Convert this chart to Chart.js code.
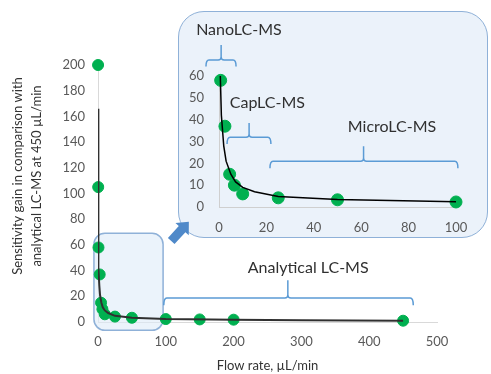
<!DOCTYPE html>
<html>
<head>
<meta charset="utf-8">
<script src="https://cdn.jsdelivr.net/npm/chart.js@4.4.0/dist/chart.umd.min.js"></script>
<style>
  body { margin: 0; background: #fff; }
  #wrap { position: relative; width: 491px; height: 374px; }
  #box { position: absolute; left: 178px; top: 11px; width: 310px; height: 227px; box-sizing: border-box;
         border: 1.5px solid #8fb1d8; border-radius: 26px; background: #ebf2fa; z-index: 1; }
  #inset { position: absolute; left: 178px; top: 11px; z-index: 2; }
  #main { position: absolute; left: 0; top: 0; z-index: 3; }
</style>
</head>
<body>
<div id="wrap">
  <div id="box"></div>
  <canvas id="inset" width="310" height="227"></canvas>
  <canvas id="main" width="491" height="374"></canvas>
</div>
<script>
// measured points (flow rate in µL/min, sensitivity gain)
const flowRate = [0.1, 0.3, 0.7, 2.5, 4.5, 6.5, 10, 25, 50, 100, 150, 200, 450];
const gain     = [200, 105, 58, 37, 15, 10, 6, 4.2, 3.3, 2.3, 2, 1.8, 1.0];

// power trend line
const fitFlow = [0.1, 0.2, 0.4, 0.6, 1, 2, 3, 5, 7, 10, 15, 25, 50, 100, 200, 300, 450];
const fitGain = [166, 110, 72, 58, 42, 28, 21, 15, 11.5, 9, 7, 4.8, 3.4, 2.4, 1.7, 1.3, 1.0];

const yTitle = ['Sensitivity gain in comparison with', 'analytical LC-MS at 450 µL/min'];
const xTitle = 'Flow rate, µL/min';

const FONT = 'Lato';
const tickCol = '#595959';
const braceCol = '#5b9bd5';

const pts = flowRate.map((x, i) => ({ x: x, y: gain[i] }));
const fit = fitFlow.map((x, i) => ({ x: x, y: fitGain[i] }));

function brace(ctx, x1, x2, y, px, py, ey) {
    const r = 3;
    ctx.save();
    ctx.strokeStyle = braceCol;
    ctx.lineWidth = 1.5;
    ctx.beginPath();
    ctx.moveTo(x1, ey);
    ctx.quadraticCurveTo(x1, y, x1 + r, y);
    ctx.lineTo(px - r, y);
    ctx.quadraticCurveTo(px, y, px, y - r);
    ctx.lineTo(px, py);
    ctx.moveTo(px, y - r);
    ctx.quadraticCurveTo(px, y, px + r, y);
    ctx.lineTo(x2 - r, y);
    ctx.quadraticCurveTo(x2, y, x2, ey);
    ctx.stroke();
    ctx.restore();
}

function label(ctx, text, x, y) {
    ctx.save();
    ctx.font = '16px ' + FONT;
    ctx.fillStyle = '#303030';
    ctx.textAlign = 'center';
    ctx.textBaseline = 'middle';
    ctx.fillText(text, x, y);
    ctx.restore();
}

function roundRect(ctx, x, y, w, h, r) {
    ctx.beginPath();
    ctx.moveTo(x + r, y);
    ctx.arcTo(x + w, y, x + w, y + h, r);
    ctx.arcTo(x + w, y + h, x, y + h, r);
    ctx.arcTo(x, y + h, x, y, r);
    ctx.arcTo(x, y, x + w, y, r);
    ctx.closePath();
}

const mainDeco = {
    id: 'mainDeco',
    beforeDatasetsDraw(chart) {
        const { ctx, scales: { x, y } } = chart;
        const l = x.getPixelForValue(-6), r = x.getPixelForValue(96);
        const t = y.getPixelForValue(69), b = y.getPixelForValue(-6.5);
        ctx.save();
        roundRect(ctx, l, t, r - l, b - t, 11);
        ctx.fillStyle = 'rgba(222,235,248,0.6)';
        ctx.fill();
        ctx.strokeStyle = '#8fb1d8';
        ctx.lineWidth = 1.5;
        ctx.stroke();
        ctx.restore();
    },
    afterDatasetsDraw(chart) {
        const { ctx, scales: { x, y } } = chart;
        brace(ctx, x.getPixelForValue(97), x.getPixelForValue(465), y.getPixelForValue(18.7),
              x.getPixelForValue(280), y.getPixelForValue(32.5), y.getPixelForValue(13));
        label(ctx, 'Analytical LC-MS', x.getPixelForValue(310), y.getPixelForValue(42));

        // arrow towards the inset
        const x0 = x.getPixelForValue(108), y0 = y.getPixelForValue(63);
        const x1 = x.getPixelForValue(134), y1 = y.getPixelForValue(78);
        const ang = Math.atan2(y1 - y0, x1 - x0);
        const len = Math.hypot(x1 - x0, y1 - y0);
        ctx.save();
        ctx.translate(x0, y0);
        ctx.rotate(ang);
        ctx.beginPath();
        ctx.moveTo(0, -4.5);
        ctx.lineTo(len - 10, -4.5);
        ctx.lineTo(len - 10, -9);
        ctx.lineTo(len, 0);
        ctx.lineTo(len - 10, 9);
        ctx.lineTo(len - 10, 4.5);
        ctx.lineTo(0, 4.5);
        ctx.closePath();
        ctx.fillStyle = '#4f89c9';
        ctx.fill();
        ctx.restore();
    },
    afterDraw(chart) {
        const { ctx } = chart;
        ctx.save();
        ctx.font = '13px ' + FONT;
        ctx.fillStyle = '#333';
        ctx.textAlign = 'center';
        ctx.textBaseline = 'middle';
        ctx.translate(18, 176);
        ctx.rotate(-Math.PI / 2);
        ctx.fillText(yTitle[0], 0, 0);
        ctx.fillText(yTitle[1], 0, 19);
        ctx.restore();
    }
};

const insetDeco = {
    id: 'insetDeco',
    afterDraw(chart) {
        const { ctx, scales: { x, y } } = chart;
        brace(ctx, x.getPixelForValue(-5.5), x.getPixelForValue(7.2), y.getPixelForValue(67.3),
              x.getPixelForValue(0.9), y.getPixelForValue(74.2), y.getPixelForValue(64.4));
        label(ctx, 'NanoLC-MS', x.getPixelForValue(8.4), y.getPixelForValue(81));
        brace(ctx, x.getPixelForValue(3.4), x.getPixelForValue(21.9), y.getPixelForValue(32),
              x.getPixelForValue(12.7), y.getPixelForValue(38.5), y.getPixelForValue(28.8));
        label(ctx, 'CapLC-MS', x.getPixelForValue(20.4), y.getPixelForValue(47.6));
        brace(ctx, x.getPixelForValue(21.5), x.getPixelForValue(100.8), y.getPixelForValue(21),
              x.getPixelForValue(61), y.getPixelForValue(27.8), y.getPixelForValue(17.8));
        label(ctx, 'MicroLC-MS', x.getPixelForValue(73), y.getPixelForValue(36.6));
    }
};

const tickFont = { family: FONT, size: 13 };

new Chart(document.getElementById('main'), {
    type: 'scatter',
    data: {
        datasets: [{
            data: fit,
            showLine: true,
            borderColor: '#303030',
            borderWidth: 2,
            pointRadius: 0
        }, {
            data: pts,
            backgroundColor: '#00b050',
            borderColor: '#00b050',
            pointRadius: 5.5,
            clip: false
        }]
    },
    options: {
        responsive: false,
        animation: false,
        layout: { padding: { top: 65, right: 54, left: 0, bottom: 0 } },
        plugins: { legend: { display: false }, tooltip: { enabled: false } },
        scales: {
            x: {
                min: 0, max: 500,
                ticks: { stepSize: 100, padding: 12, color: tickCol, font: tickFont },
                grid: { display: false, drawTicks: false },
                border: { display: true, color: '#d9d9d9' },
                title: { display: true, text: xTitle, color: '#333', font: tickFont, padding: { top: 0, bottom: 0 } },
                afterFit: s => { s.height = 52; }
            },
            y: {
                min: 0, max: 200,
                ticks: { stepSize: 20, padding: 13, color: tickCol, font: tickFont },
                grid: { display: false, drawTicks: false },
                border: { display: true, color: '#d9d9d9' },
                afterFit: s => { s.width = 98; }
            }
        }
    },
    plugins: [mainDeco]
});

new Chart(document.getElementById('inset'), {
    type: 'scatter',
    data: {
        datasets: [{
            data: fit,
            showLine: true,
            borderColor: '#000',
            borderWidth: 1.5,
            pointRadius: 0,
            clip: 0
        }, {
            data: pts,
            backgroundColor: '#00b050',
            borderColor: '#00b050',
            pointRadius: 6,
            clip: 7
        }]
    },
    options: {
        responsive: false,
        animation: false,
        layout: { padding: { top: 65, right: 32, left: 0, bottom: 0 } },
        plugins: { legend: { display: false }, tooltip: { enabled: false } },
        scales: {
            x: {
                min: 0, max: 100,
                ticks: { stepSize: 20, padding: 13, color: tickCol, font: tickFont },
                grid: { display: false, drawTicks: false },
                border: { display: true, color: '#cfcfcf' },
                afterFit: s => { s.height = 31; }
            },
            y: {
                min: 0, max: 60,
                ticks: { stepSize: 10, padding: 15, color: tickCol, font: tickFont },
                grid: { display: false, drawTicks: false },
                border: { display: true, color: '#cfcfcf' },
                afterFit: s => { s.width = 41; }
            }
        }
    },
    plugins: [insetDeco]
});
</script>
</body>
</html>
